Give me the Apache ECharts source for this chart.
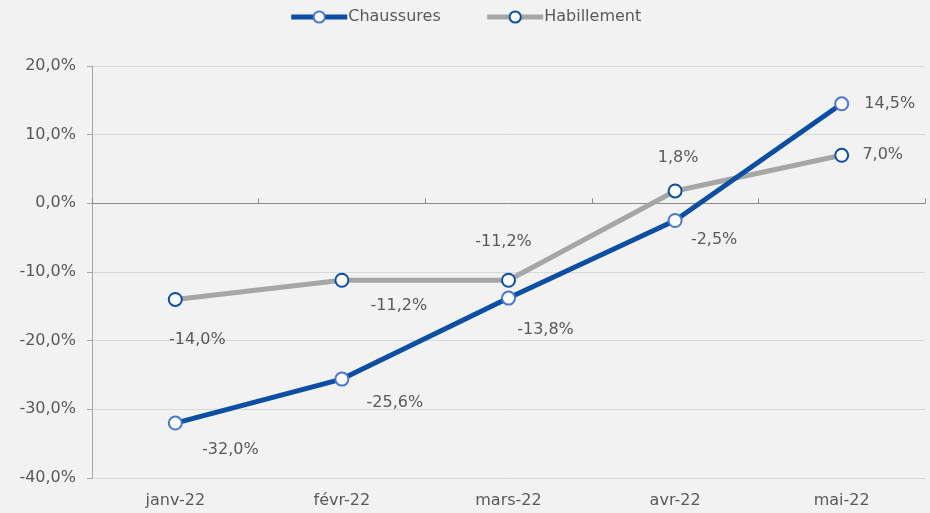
<!DOCTYPE html>
<html>
<head>
<meta charset="utf-8">
<script src="https://cdn.jsdelivr.net/npm/echarts@6/dist/echarts.min.js"></script>
<style>
html,body{margin:0;padding:0;background:#f2f2f2;}
#chart{width:930px;height:513px;}
</style>
</head>
<body>
<div id="chart"></div>
<script>
var categories = ['janv-22', 'févr-22', 'mars-22', 'avr-22', 'mai-22'];
var chaussures = [-32.0, -25.6, -13.8, -2.5, 14.5];
var habillement = [-14.0, -11.2, -11.2, 1.8, 7.0];
var yMin = -40, yMax = 20, yStep = 10;

// label placement styles (offsets in px relative to the point)
var chLabelOffsets = [[55, 27], [53, 24], [37, 32], [39, 19], [48, 0]];
var haLabelOffsets = [[22, 40], [57, 26], [-5, -38], [3, -33], [41, 0]];

var FONT = 'DejaVu Sans';
var FS = 16;
function fmt(v) { return v.toFixed(1).replace('.', ',') + '%'; }

function buildData(values, offsets) {
  return values.map(function (v, i) {
    return {
      value: v,
      label: { show: true, position: 'inside', offset: offsets[i] }
    };
  });
}

var chart = echarts.init(document.getElementById('chart'));
chart.setOption({
  backgroundColor: '#f2f2f2',
  animation: false,
  legend: {
    top: 4,
    left: 'center',
    itemWidth: 56,
    itemHeight: 14,
    itemGap: 44,
    lineStyle: { width: 5 },
    textStyle: { fontFamily: FONT, fontSize: FS, color: '#595959', padding: [0, 0, 0, -4] },
    data: ['Chaussures', 'Habillement']
  },
  grid: { left: 92, right: 5, top: 66, bottom: 35 },
  xAxis: [
    {
      type: 'category',
      data: categories,
      position: 'bottom',
      boundaryGap: true,
      axisLine: { show: false, onZero: false },
      axisTick: { show: false },
      axisLabel: { fontFamily: FONT, fontSize: FS, color: '#595959', margin: 15 }
    },
    {
      type: 'category',
      data: categories,
      position: 'top',
      boundaryGap: true,
      axisLine: { show: true, onZero: true, onZeroAxisIndex: 0, lineStyle: { color: '#8c8c8c', width: 1 } },
      axisTick: { show: true, length: 5, lineStyle: { color: '#8c8c8c' } },
      axisLabel: { show: false }
    }
  ],
  yAxis: {
    type: 'value',
    min: yMin,
    max: yMax,
    interval: yStep,
    axisLine: { show: true, lineStyle: { color: '#a6a6a6' } },
    axisTick: { show: true, length: 5, lineStyle: { color: '#a6a6a6' } },
    splitLine: { show: true, lineStyle: { color: '#d9d9d9', width: 1 } },
    axisLabel: {
      fontFamily: FONT, fontSize: FS, color: '#595959', margin: 16,
      formatter: function (v) { return fmt(v); }
    }
  },
  series: [
    {
      name: 'Habillement',
      type: 'line',
      xAxisIndex: 0,
      data: buildData(habillement, haLabelOffsets),
      symbol: 'circle',
      symbolSize: 13,
      lineStyle: { color: '#a6a6a6', width: 5 },
      itemStyle: { color: '#ffffff', borderColor: '#0b4ea2', borderWidth: 2 },
      label: { fontFamily: FONT, fontSize: FS, color: '#595959', formatter: function (p) { return fmt(p.value); } },
      z: 2
    },
    {
      name: 'Chaussures',
      type: 'line',
      xAxisIndex: 0,
      data: buildData(chaussures, chLabelOffsets),
      symbol: 'circle',
      symbolSize: 13,
      lineStyle: { color: '#0b4ea2', width: 5 },
      itemStyle: { color: '#ffffff', borderColor: '#4a77d0', borderWidth: 2 },
      label: { fontFamily: FONT, fontSize: FS, color: '#595959', formatter: function (p) { return fmt(p.value); } },
      z: 3
    }
  ]
});
</script>
</body>
</html>
